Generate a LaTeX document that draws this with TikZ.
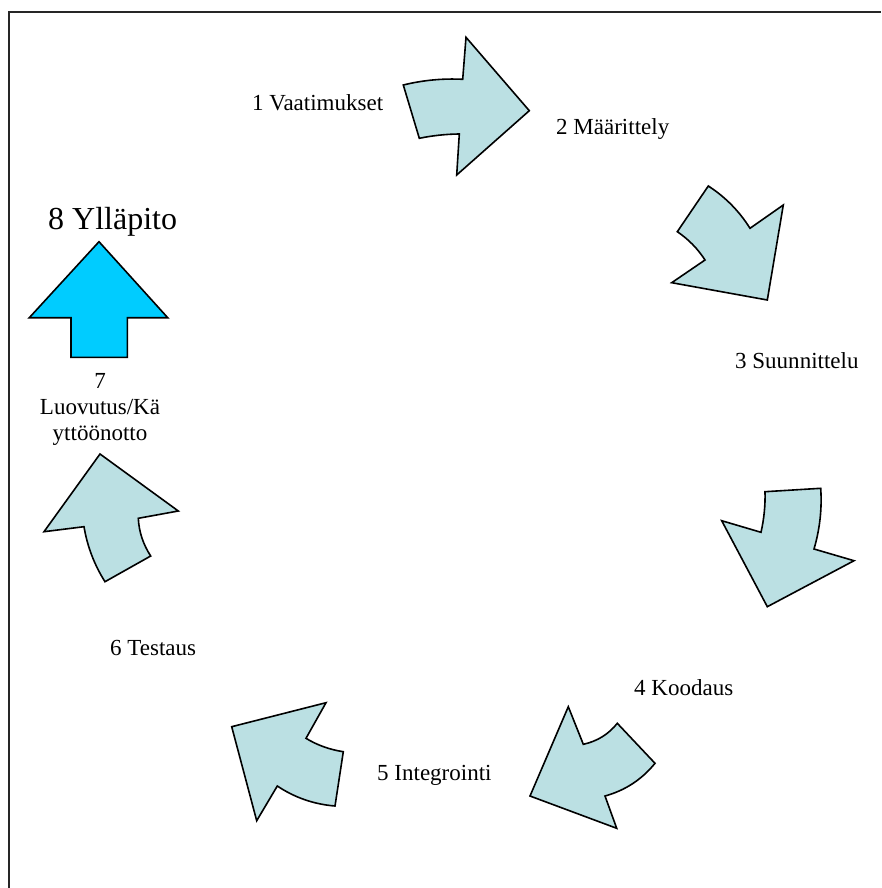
\documentclass[tikz,border=0pt]{standalone}
\usepackage{fontspec}
\setmainfont{Liberation Serif}
\definecolor{stepfill}{RGB}{187,224,227}
\definecolor{keepfill}{RGB}{0,204,255}
\tikzset{
  cyclearrow/.style={draw=black, line width=1.6pt, fill=stepfill, line join=miter},
  keeparrow/.style={draw=black, line width=1.6pt, fill=keepfill, line join=miter},
  steplabel/.style={anchor=base west, inner sep=0pt, font=\fontsize{23}{26}\selectfont},
  biglabel/.style={anchor=base west, inner sep=0pt, font=\fontsize{32}{36}\selectfont},
  midlabel/.style={anchor=base, inner sep=0pt, font=\fontsize{23}{26}\selectfont},
  frameline/.style={draw=black!85, line width=2.2pt}
}
\begin{document}
\begin{tikzpicture}[x=1pt, y=-1pt]
\useasboundingbox (0,0) rectangle (881,888);

% frame (left and top edges)
\draw[frameline] (9,888) -- (9,12) -- (881,12);

% 1 -> 2
\draw[cyclearrow] (403.3,85) .. controls (422.8,80.2) and (442.6,78.3) .. (462.7,79.3)
  -- (466,37.3) -- (529.3,110.7) -- (456.7,175) -- (459.3,134)
  .. controls (446,134.1) and (432.6,135.6) .. (419.3,138.3) -- cycle;

% 2 -> 3
\draw[cyclearrow] (708.3,186) .. controls (725.3,197) and (739.2,211.1) .. (750,228.3)
  -- (783.3,205) -- (767.3,300) -- (671.7,282.7) -- (705,260)
  .. controls (697.7,248.7) and (688.4,239.2) .. (677.3,231.7) -- cycle;

% 3 -> 4
\draw[cyclearrow] (765,491.7) -- (820.7,488.3)
  .. controls (822.1,508.9) and (819.8,529.2) .. (814,549)
  -- (854,560.7) -- (767.3,606.7) -- (721.7,520.7) -- (761,532.3)
  .. controls (764,519) and (765.4,505.4) .. (765,491.7) -- cycle;

% 4 -> 5
\draw[cyclearrow] (568.3,706.7) -- (583.3,744.3)
  .. controls (597.1,741.3) and (608.5,734.3) .. (617.3,723.3)
  -- (655,763.3)
  .. controls (641.8,779.5) and (625.2,790.4) .. (605,796)
  -- (616.7,828.3) -- (530,796) -- cycle;

% 5 -> 6
\draw[cyclearrow] (231.7,726.7) -- (326,702.7) -- (306,738.3)
  .. controls (317.5,745.3) and (330,749.7) .. (343.3,751.7)
  -- (335,806)
  .. controls (314.1,804.3) and (294.8,797.7) .. (277.3,786)
  -- (256.7,820.7) -- cycle;

% 6 -> 7
\draw[cyclearrow] (100,454) -- (178.3,511) -- (138.3,518.3)
  .. controls (139,532) and (143.2,544.5) .. (150.7,556)
  -- (105,581.7)
  .. controls (94.3,564.8) and (87.3,546.4) .. (84,526.7)
  -- (44,531.7) -- cycle;

% 8 (upward arrow)
\draw[keeparrow] (99,241.7) -- (167.7,317.7) -- (127.3,317.7) -- (127.3,357.3)
  -- (71,357.3) -- (71,317.7) -- (29.3,317.7) -- cycle;

% labels
\node[steplabel] (l1) at (252,110.5) {1 Vaatimukset};
\node[steplabel] (l2) at (556,135) {2 Määrittely};
\node[steplabel] (l3) at (735,368) {3 Suunnittelu};
\node[steplabel] (l4) at (634,695) {4 Koodaus};
\node[steplabel] (l5) at (377,780) {5 Integrointi};
\node[steplabel] (l6) at (110,655) {6 Testaus};
\node[midlabel] (l7a) at (100,388) {7};
\node[midlabel] (l7b) at (100,414) {Luovutus/Kä};
\node[midlabel] (l7c) at (100,440) {yttöönotto};
\node[biglabel] (l8) at (48,229.5) {8 Ylläpito};
\end{tikzpicture}
\end{document}
